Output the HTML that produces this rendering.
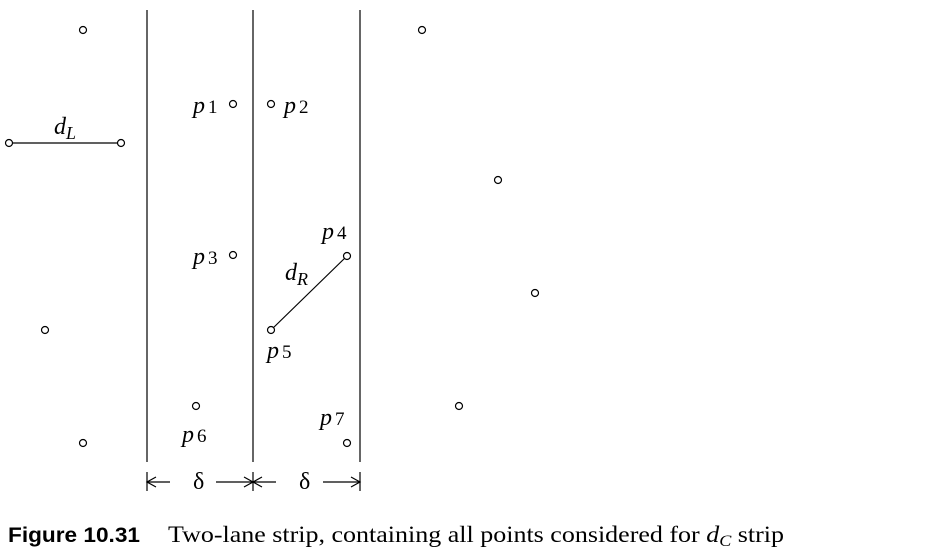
<!DOCTYPE html>
<html><head><meta charset="utf-8"><style>
html,body{margin:0;padding:0;background:#fff;width:947px;height:548px;overflow:hidden}
svg{display:block}
.p{font-family:"Liberation Serif",serif;font-style:italic;font-size:24px}
.s{font-family:"Liberation Serif",serif;font-size:19px;font-style:normal}
.si{font-family:"Liberation Serif",serif;font-size:18px;font-style:italic}
</style></head><body>
<svg id="fig" width="947" height="548">
<g id="lines" stroke="#000" stroke-width="1.2" fill="none"></g>
<g id="pts"></g>
<g>
<text class="p" x="193" y="113">p<tspan class="s" dx="3">1</tspan></text>
<text class="p" x="284" y="113">p<tspan class="s" dx="3">2</tspan></text>
<text class="p" x="193" y="264">p<tspan class="s" dx="3">3</tspan></text>
<text class="p" x="322" y="239">p<tspan class="s" dx="3">4</tspan></text>
<text class="p" x="267" y="358">p<tspan class="s" dx="3">5</tspan></text>
<text class="p" x="182" y="442">p<tspan class="s" dx="3">6</tspan></text>
<text class="p" x="320" y="425">p<tspan class="s" dx="3">7</tspan></text>
<text class="p" x="54" y="134">d<tspan class="si" dy="5">L</tspan></text>
<text class="p" x="285" y="280">d<tspan class="si" dy="5">R</tspan></text>
<text x="193" y="489" font-family="Liberation Serif,serif" font-size="24">δ</text>
<text x="299" y="489" font-family="Liberation Serif,serif" font-size="24">δ</text>
</g>
<text x="8" y="542" font-family="Liberation Sans,sans-serif" font-weight="bold" font-size="21" textLength="132" lengthAdjust="spacingAndGlyphs">Figure 10.31</text>
<text x="168" y="542" font-family="Liberation Serif,serif" font-size="23" textLength="616" lengthAdjust="spacingAndGlyphs">Two-lane strip, containing all points considered for <tspan font-style="italic">d</tspan><tspan font-style="italic" font-size="16" dy="4">C</tspan><tspan dy="-4"> strip</tspan></text>
</svg>
<script>
const ptX=[83,422,233,271,9,121,498,233,347,535,45,271,196,459,83,347];
const ptY=[30,30,104,104,143,143,180,255,256,293,330,330,406,406,443,443];
const stripX=[147,253,360];
const segments=[[4,5],[8,11]];
const NS="http://www.w3.org/2000/svg";
const L=document.getElementById('lines'),P=document.getElementById('pts');
function mk(t,a,p){const e=document.createElementNS(NS,t);for(const k in a)e.setAttribute(k,a[k]);p.appendChild(e);return e;}
stripX.forEach((x,i)=>{const e=mk('line',{x1:x,y1:10,x2:x,y2:462},L);

});
segments.forEach((s,i)=>{const e=mk('line',{x1:ptX[s[0]],y1:ptY[s[0]],x2:ptX[s[1]],y2:ptY[s[1]]},L);

});
const ay=482;
function arrow(x1,x2,n){const e=mk('line',{x1:x1,y1:ay,x2:x2,y2:ay},L);


const d=x2>x1?-1:1;mk('path',{d:`M${x2+d*9},${ay-5}L${x2},${ay}L${x2+d*9},${ay+5}`},L);}
stripX.forEach(x=>mk('line',{x1:x,y1:472,x2:x,y2:491},L));
arrow(170,147,'arrow-left-1');arrow(216,253,'arrow-right-1');
arrow(276,253,'arrow-left-2');arrow(323,360,'arrow-right-2');
ptX.forEach((x,i)=>{const c=mk('circle',{cx:x,cy:ptY[i],r:3.5,fill:'#fff',stroke:'#000','stroke-width':1.2},P);

});
</script>
</body></html>
